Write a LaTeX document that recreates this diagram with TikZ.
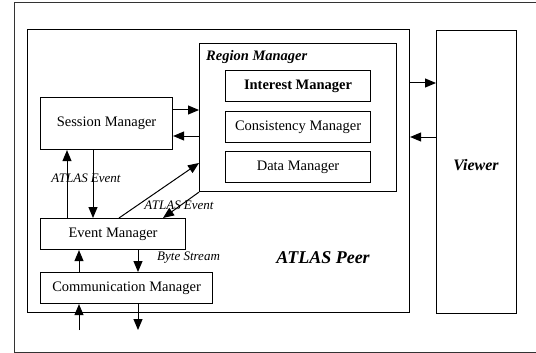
\documentclass[tikz,border=0pt]{standalone}
\usepackage{fontspec}
\setmainfont{Liberation Serif}
\usetikzlibrary{arrows.meta}
\begin{document}
\begin{tikzpicture}[x=1pt,y=-1pt,
  box/.style={draw,line width=1.1pt,inner sep=0pt,anchor=north west,font=\fontsize{14.5}{16}\selectfont},
  arr/.style={line width=1pt,-{Triangle[length=11pt,width=9pt]}},
  lbl/.style={font=\fontsize{13}{14}\selectfont\itshape,inner sep=0pt}]
\useasboundingbox (0,0) rectangle (536,353);
\draw[line width=1pt,black!80] (545,3) -- (14,3) -- (14,352) -- (545,352);
\node[box,minimum width=382pt,minimum height=283pt] (peer) at (27,29) {};
\node[box,minimum width=197pt,minimum height=148pt] (region) at (199,43) {};
\node[box,minimum width=145pt,minimum height=31pt,font=\fontsize{14.5}{16}\selectfont\bfseries] (interest) at (225,70) {Interest Manager};
\node[box,minimum width=145pt,minimum height=31pt] (consist) at (225,111) {Consistency Manager};
\node[box,minimum width=145pt,minimum height=31pt] (data) at (225,151) {Data Manager};
\node[box,minimum width=132pt,minimum height=52pt] (session) at (40,97) {Session Manager};
\node[box,minimum width=145pt,minimum height=31pt] (event) at (40,218) {Event Manager};
\node[box,minimum width=172pt,minimum height=31pt] (comm) at (40,272) {Communication Manager};
\node[box,minimum width=80pt,minimum height=283pt] (viewer) at (436,30) {};
\node[font=\fontsize{16}{18}\selectfont\bfseries\itshape,inner sep=0pt] (viewertxt) at (476,165) {Viewer};
\node[font=\fontsize{14.5}{16}\selectfont\bfseries\itshape,inner sep=0pt,anchor=west] (regiontxt) at (206,57) {Region Manager};
\node[font=\fontsize{18}{20}\selectfont\bfseries\itshape,inner sep=0pt] (peertxt) at (323,258) {ATLAS Peer};
\node[lbl] (l1) at (86,178) {ATLAS Event};
\node[lbl] (l2) at (179,205) {ATLAS Event};
\node[lbl,anchor=west] (l3) at (157,258) {Byte Stream};
\coordinate (inC) at (79,330);
\coordinate (outC) at (138,330);
% arrows
\draw[arr] (session.east |- 0,110) -- (region.west |- 0,110);
\draw[arr] (region.west |- 0,136) -- (session.east |- 0,136);
\draw[arr] (peer.east |- 0,83) -- (viewer.west |- 0,83);
\draw[arr] (viewer.west |- 0,137) -- (peer.east |- 0,137);
\draw[arr] (event.north -| 67,0) -- (session.south -| 67,0);
\draw[arr] (session.south -| 93,0) -- (event.north -| 93,0);
\draw[arr] (event.north -| 119,0) -- (region.west |- 0,163);
\draw[arr] (region.south west) -- (event.north -| 163,0);
\draw[arr] (comm.north -| inC) -- (event.south -| inC);
\draw[arr] (event.south -| outC) -- (comm.north -| outC);
\draw[arr] (inC) -- (comm.south -| inC);
\draw[arr] (comm.south -| outC) -- (outC);
\end{tikzpicture}
\end{document}
